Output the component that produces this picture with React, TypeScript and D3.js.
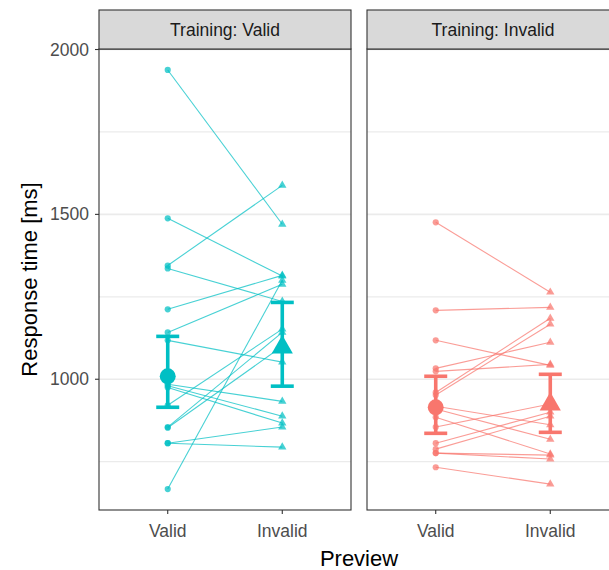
import React from 'react';
import * as d3 from 'd3';

// Facets (training) and x categories (preview)
const trainings = ['Valid', 'Invalid'];
const previews = ['Valid', 'Invalid'];

// Individual subjects: response time [ms] for Preview Valid and Preview Invalid
const validTrainingPreviewValid = [1938, 1488, 1345, 1336, 1212, 1142, 1118, 985, 980, 975, 921, 855, 853, 806, 806, 667];
const validTrainingPreviewInvalid = [1470, 1313, 1588, 1236, 1315, 1288, 1052, 933, 888, 867, 1152, 1142, 1100, 855, 794, 1300];
const invalidTrainingPreviewValid = [1476, 1209, 1118, 1033, 1024, 960, 952, 918, 910, 885, 855, 806, 788, 776, 776, 733];
const invalidTrainingPreviewInvalid = [1264, 1218, 1042, 1112, 1045, 1185, 1167, 862, 818, 773, 925, 900, 888, 758, 770, 682];

// Summary estimates per training (index matches trainings), per preview
const meanPreviewValid = [1009, 915];
const meanPreviewInvalid = [1097, 924];
const lowPreviewValid = [915, 836];
const highPreviewValid = [1130, 1009];
const lowPreviewInvalid = [979, 839];
const highPreviewInvalid = [1233, 1015];

const yTicks = [1000, 1500, 2000];
const yMinorTicks = [750, 1250, 1750];
const colors = ['#00BFC4', '#F8766D'];

const W = 609;
const H = 570;
const FONT = '"Liberation Sans", Arial, Helvetica, sans-serif';

export default function App() {
  const left = 99;
  const panelW = 252;
  const gap = 16;
  const stripTop = 10;
  const top = 49;
  const bottom = 510;

  const allVals = [
    ...validTrainingPreviewValid, ...validTrainingPreviewInvalid,
    ...invalidTrainingPreviewValid, ...invalidTrainingPreviewInvalid,
    ...lowPreviewValid, ...highPreviewValid, ...lowPreviewInvalid, ...highPreviewInvalid,
  ];
  const [mn, mx] = d3.extent(allVals) as [number, number];
  const pad = (mx - mn) * 0.05;
  const y = d3.scaleLinear().domain([mn - pad, mx + pad]).range([bottom, top]);
  const x = d3.scalePoint<string>().domain(previews).range([0, panelW]).padding(0.6);

  const subjects = [
    [validTrainingPreviewValid, validTrainingPreviewInvalid],
    [invalidTrainingPreviewValid, invalidTrainingPreviewInvalid],
  ];
  const circle = d3.symbol().type(d3.symbolCircle);
  const tri = d3.symbol().type(d3.symbolTriangle);

  const xV = x('Valid') as number;
  const xI = x('Invalid') as number;
  const plotRight = left + 2 * panelW + gap;

  return (
    <svg width={W} height={H} style={{ position: 'absolute', left: 0, top: 0, background: '#fff' }} fontFamily={FONT}>
      <rect x={0} y={0} width={W} height={H} fill="#fff" />
      {trainings.map((t, ti) => {
        const px = left + ti * (panelW + gap);
        const [pre, post] = subjects[ti];
        const col = colors[ti];
        const clipId = `clip${ti}`;
        return (
          <g key={t}>
            <defs>
              <clipPath id={clipId}>
                <rect x={px} y={top} width={panelW} height={bottom - top} />
              </clipPath>
            </defs>
            <rect x={px} y={top} width={panelW} height={bottom - top} fill="#fff" />
            <g clipPath={`url(#${clipId})`}>
              {yMinorTicks.map((v) => (
                <line key={'m' + v} x1={px} x2={px + panelW} y1={y(v)} y2={y(v)} stroke="#EBEBEB" strokeWidth={1.3} />
              ))}
              {yTicks.map((v) => (
                <line key={'M' + v} x1={px} x2={px + panelW} y1={y(v)} y2={y(v)} stroke="#EBEBEB" strokeWidth={1.6} />
              ))}
              {pre.map((v, i) => (
                <line key={'l' + i} x1={px + xV} y1={y(v)} x2={px + xI} y2={y(post[i])} stroke={col} strokeOpacity={0.72} strokeWidth={1.1} />
              ))}
              {pre.map((v, i) => (
                <path key={'c' + i} d={circle.size(30)() as string} transform={`translate(${px + xV},${y(v)})`} fill={col} fillOpacity={0.72} />
              ))}
              {post.map((v, i) => (
                <path key={'t' + i} d={tri.size(30)() as string} transform={`translate(${px + xI},${y(v)})`} fill={col} fillOpacity={0.72} />
              ))}
              {[
                [xV, lowPreviewValid[ti], highPreviewValid[ti]],
                [xI, lowPreviewInvalid[ti], highPreviewInvalid[ti]],
              ].map(([cx, lo, hi], k) => (
                <g key={'e' + k} stroke={col} strokeWidth={3.6}>
                  <line x1={px + cx} x2={px + cx} y1={y(lo)} y2={y(hi)} />
                  <line x1={px + cx - 11.5} x2={px + cx + 11.5} y1={y(lo)} y2={y(lo)} />
                  <line x1={px + cx - 11.5} x2={px + cx + 11.5} y1={y(hi)} y2={y(hi)} />
                </g>
              ))}
              <path d={circle.size(200)() as string} transform={`translate(${px + xV},${y(meanPreviewValid[ti])})`} fill={col} />
              <path d={tri.size(195)() as string} transform={`translate(${px + xI},${y(meanPreviewInvalid[ti])})`} fill={col} />
            </g>
            <rect x={px} y={top} width={panelW} height={bottom - top} fill="none" stroke="#333333" strokeWidth={1.1} />
            <rect x={px} y={stripTop} width={panelW} height={top - stripTop} fill="#D9D9D9" stroke="#333333" strokeWidth={1.1} />
            <text x={px + panelW / 2} y={(stripTop + top) / 2} textAnchor="middle" dominantBaseline="central" fontSize={17.5} fill="#1A1A1A">
              Training: {t}
            </text>
            {previews.map((p) => (
              <g key={p}>
                <line x1={px + (x(p) as number)} x2={px + (x(p) as number)} y1={bottom} y2={bottom + 4} stroke="#333333" strokeWidth={1.1} />
                <text x={px + (x(p) as number)} y={bottom + 27} textAnchor="middle" fontSize={17.5} fill="#4D4D4D">{p}</text>
              </g>
            ))}
          </g>
        );
      })}
      {yTicks.map((v) => (
        <g key={v}>
          <line x1={left - 4} x2={left} y1={y(v)} y2={y(v)} stroke="#333333" strokeWidth={1.1} />
          <text x={left - 10} y={y(v)} textAnchor="end" dominantBaseline="central" fontSize={17.5} fill="#4D4D4D">{v}</text>
        </g>
      ))}
      <text transform={`translate(37,${(top + bottom) / 2}) rotate(-90)`} textAnchor="middle" fontSize={22} fill="#000">Response time [ms]</text>
      <text x={(left + plotRight) / 2} y={566} textAnchor="middle" fontSize={22} fill="#000">Preview</text>
    </svg>
  );
}
